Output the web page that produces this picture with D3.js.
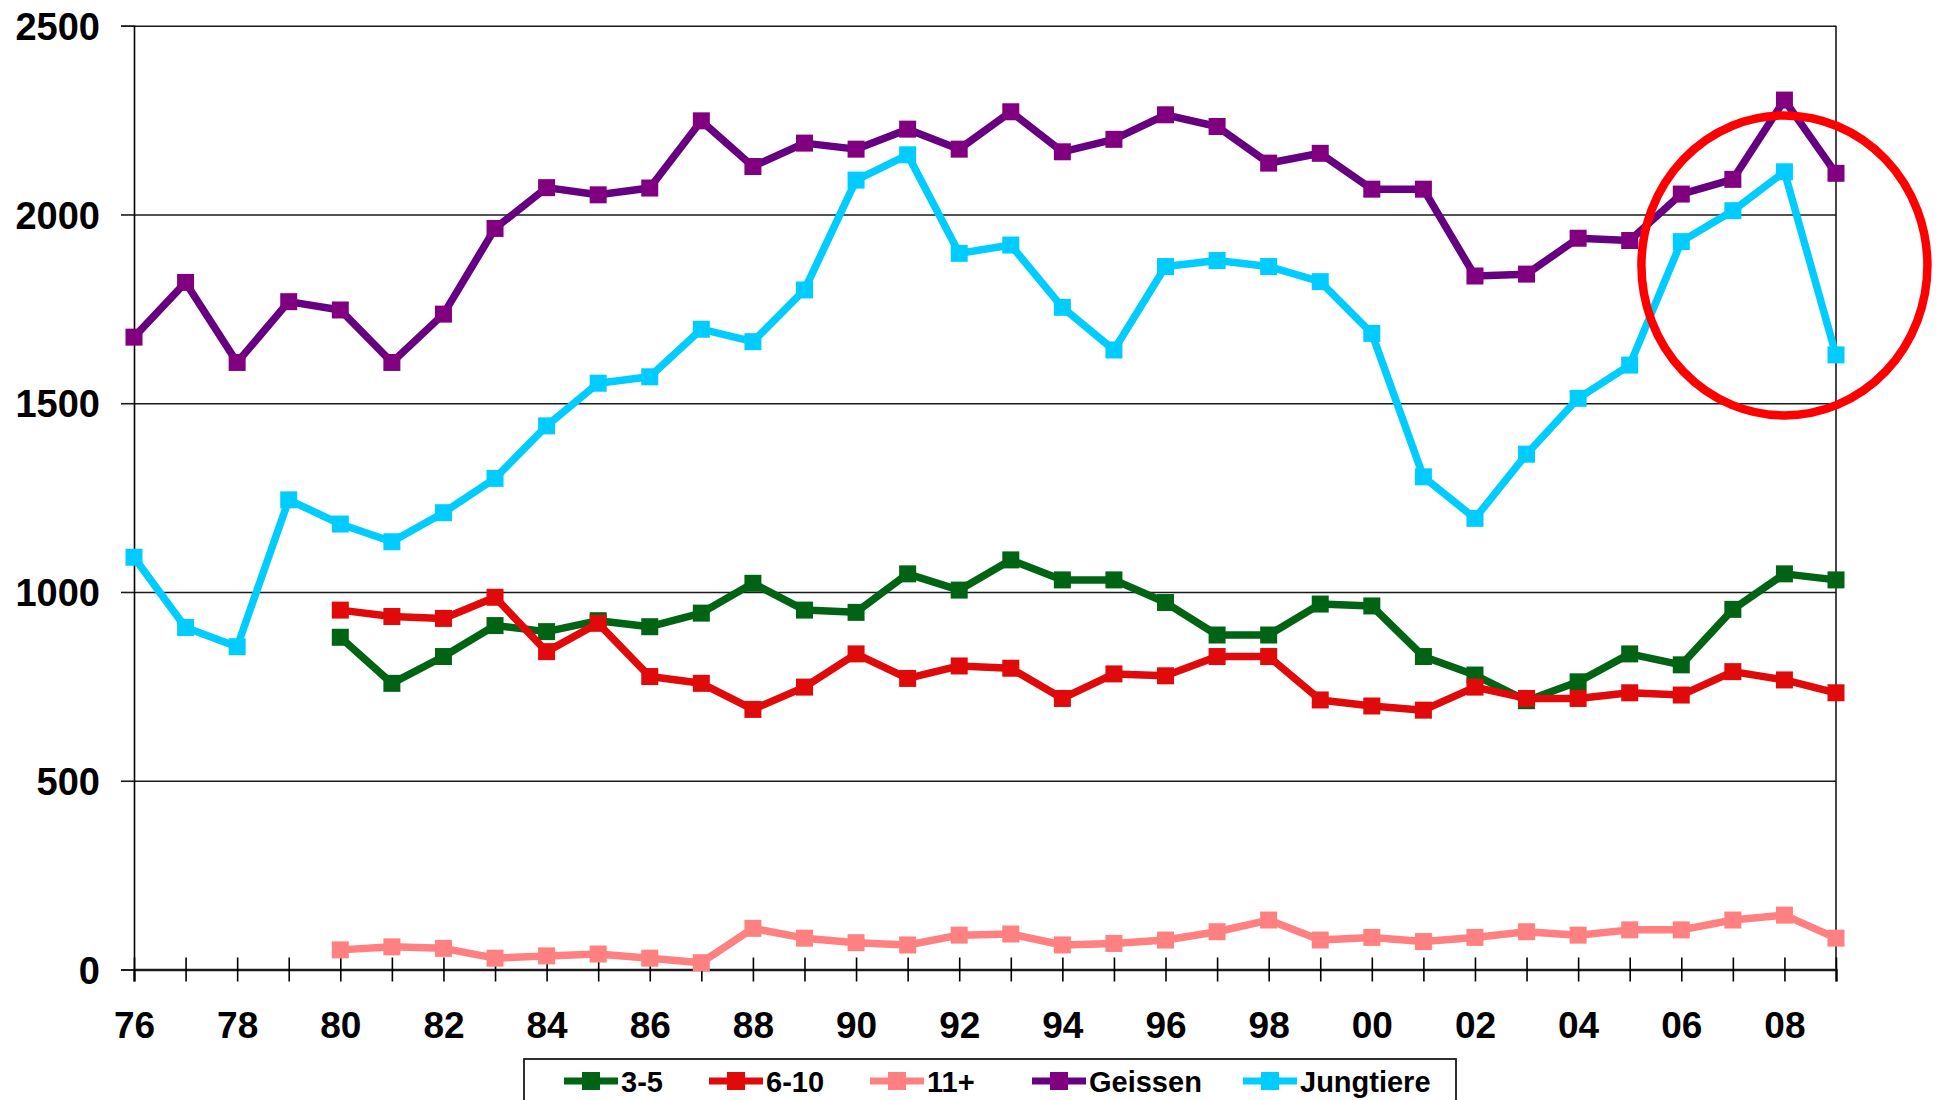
<!DOCTYPE html>
<html>
<head>
<meta charset="utf-8">
<script src="https://cdn.jsdelivr.net/npm/d3@7"></script>
<style>
  body { margin: 0; background: #fff; }
  text { font-family: "Liberation Sans", Arial, sans-serif; font-weight: bold; fill: #000; }
</style>
</head>
<body>
<div id="chart"></div>
<script>
// data
const years = [1976, 1977, 1978, 1979, 1980, 1981, 1982, 1983, 1984, 1985,
  1986, 1987, 1988, 1989, 1990, 1991, 1992, 1993, 1994, 1995,
  1996, 1997, 1998, 1999, 2000, 2001, 2002, 2003, 2004, 2005,
  2006, 2007, 2008, 2009];
const yearsFrom80 = years.slice(4);

const geissen = [1675, 1820, 1608, 1769, 1747, 1608, 1736, 1963, 2071, 2052,
  2070, 2248, 2127, 2189, 2173, 2226, 2173, 2272, 2166, 2199,
  2264, 2233, 2136, 2162, 2067, 2067, 1837, 1842, 1937, 1931,
  2054, 2093, 2303, 2109];
const jungtiere = [1092, 906, 855, 1244, 1180, 1133, 1210, 1301, 1440, 1553,
  1570, 1696, 1663, 1800, 2091, 2158, 1897, 1919, 1754, 1641,
  1862, 1878, 1862, 1822, 1685, 1305, 1195, 1365, 1513, 1601,
  1928, 2010, 2113, 1628];
const age3to5 = [880, 758, 829, 911, 895, 924, 908, 944, 1023, 952,
  946, 1048, 1005, 1085, 1032, 1032, 972, 886, 886, 968,
  963, 829, 780, 712, 762, 836, 807, 954, 1048, 1032];
const age6to10 = [952, 935, 930, 986, 842, 917, 776, 758, 689, 748,
  836, 771, 804, 798, 718, 783, 778, 829, 829, 714,
  698, 687, 748, 718, 718, 733, 727, 789, 767, 733];
const age11plus = [52, 60, 56, 30, 36, 41, 30, 18, 109, 83,
  71, 65, 91, 94, 65, 69, 78, 100, 131, 78,
  85, 74, 85, 100, 91, 105, 105, 131, 144, 83];

const yTicks = [0, 500, 1000, 1500, 2000, 2500];

const series = [
  { name: "3-5", x: yearsFrom80, values: age3to5, line: "#006414", marker: "#006414" },
  { name: "6-10", x: yearsFrom80, values: age6to10, line: "#e00a0a", marker: "#e00a0a" },
  { name: "11+", x: yearsFrom80, values: age11plus, line: "#ff8080", marker: "#ff8080" },
  { name: "Geissen", x: years, values: geissen, line: "#660080", marker: "#800080" },
  { name: "Jungtiere", x: years, values: jungtiere, line: "#00ccff", marker: "#00ccff" }
];

const width = 1939, height = 1100;
const plotLeft = 134, plotRight = 1836, plotTop = 25.7, plotBottom = 969.5;

const svg = d3.select("#chart").append("svg")
  .attr("width", width)
  .attr("height", height);

svg.append("rect").attr("width", width).attr("height", height).attr("fill", "#fff");

const x = d3.scaleLinear().domain([1976, 2009]).range([plotLeft, plotRight]);
const y = d3.scaleLinear().domain([0, 2500]).range([plotBottom, plotTop]);

// horizontal gridlines
svg.append("g")
  .attr("transform", `translate(${plotLeft},0)`)
  .call(d3.axisLeft(y).tickValues(yTicks.slice(1)).tickSize(-(plotRight - plotLeft)).tickFormat(""))
  .call(g => g.select(".domain").remove())
  .call(g => g.selectAll("line").attr("stroke", "#1a1a1a").attr("stroke-width", 1.6));

// right border of plot area
svg.append("line")
  .attr("x1", plotRight).attr("x2", plotRight)
  .attr("y1", y(2500)).attr("y2", y(0))
  .attr("stroke", "#1a1a1a").attr("stroke-width", 1.6);

// y axis
svg.append("g")
  .attr("transform", `translate(${plotLeft},0)`)
  .call(d3.axisLeft(y).tickValues(yTicks).tickSize(13).tickPadding(21).tickFormat(d3.format("d")))
  .call(g => g.select(".domain").attr("stroke", "#000").attr("stroke-width", 1.6))
  .call(g => g.selectAll("line").attr("stroke", "#1a1a1a").attr("stroke-width", 1.6))
  .call(g => g.selectAll("text").attr("font-size", 38).attr("dy", "0.36em"));

// x axis, ticks cross the line
svg.append("g")
  .attr("transform", `translate(0,${plotBottom})`)
  .call(d3.axisBottom(x).tickValues(years).tickSize(12).tickPadding(30)
    .tickFormat(d => d % 2 === 0 ? String(d % 100).padStart(2, "0") : ""))
  .call(g => g.select(".domain").attr("stroke", "#1a1a1a").attr("stroke-width", 2.4))
  .call(g => g.selectAll(".tick line").attr("y1", -12).attr("stroke", "#000").attr("stroke-width", 1.6))
  .call(g => g.selectAll("text").attr("font-size", 37));

// series
const line = d3.line().x(d => x(d[0])).y(d => y(d[1]));
const ms = 17;

series.forEach(s => {
  const pts = s.x.map((yr, i) => [yr, s.values[i]]);
  svg.append("path")
    .datum(pts)
    .attr("d", line)
    .attr("fill", "none")
    .attr("stroke", s.line)
    .attr("stroke-width", 7.5)
    .attr("stroke-linejoin", "round");
  svg.append("g")
    .selectAll("rect")
    .data(pts)
    .join("rect")
    .attr("x", d => x(d[0]) - ms / 2)
    .attr("y", d => y(d[1]) - ms / 2)
    .attr("width", ms)
    .attr("height", ms)
    .attr("fill", s.marker);
});

// red circle annotation
svg.append("ellipse")
  .attr("cx", x(2008))
  .attr("cy", y(1865))
  .attr("rx", 143)
  .attr("ry", 150)
  .attr("fill", "none")
  .attr("stroke", "#ff0000")
  .attr("stroke-width", 8.5);

// legend
const legendX = [564, 709, 870, 1032, 1243];
const legend = svg.append("g");
legend.append("rect")
  .attr("x", 524).attr("y", 1059)
  .attr("width", 932).attr("height", 60)
  .attr("fill", "#fff")
  .attr("stroke", "#1a1a1a")
  .attr("stroke-width", 1.8);

series.forEach((s, i) => {
  const g = legend.append("g").attr("transform", `translate(${legendX[i]},1081)`);
  g.append("line")
    .attr("x1", 0).attr("x2", 54)
    .attr("stroke", s.line).attr("stroke-width", 7);
  g.append("rect")
    .attr("x", 27 - 9).attr("y", -9)
    .attr("width", 18).attr("height", 18)
    .attr("fill", s.marker);
  g.append("text")
    .attr("x", 57).attr("y", 11)
    .attr("font-size", 29)
    .text(s.name);
});
</script>
</body>
</html>
